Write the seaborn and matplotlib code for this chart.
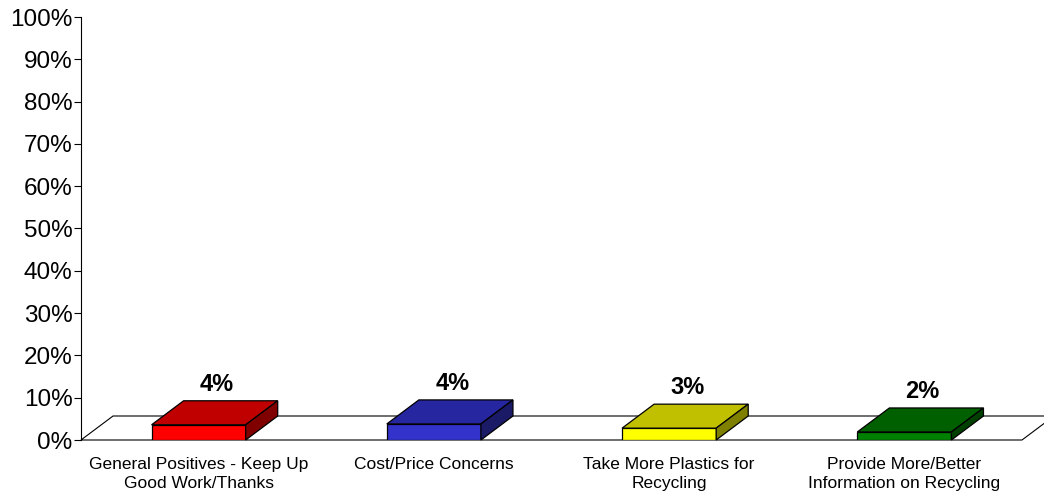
import matplotlib
matplotlib.use("Agg")
import matplotlib.pyplot as plt
import seaborn as sns
import pandas as pd

categories = ["General Positives - Keep Up\nGood Work/Thanks",
              "Cost/Price Concerns",
              "Take More Plastics for\nRecycling",
              "Provide More/Better\nInformation on Recycling"]
values = [3.6, 3.8, 2.8, 1.9]
front_colors = ["#FF0000", "#3333CC", "#FFFF00", "#008000"]
top_colors = ["#C00000", "#2626A0", "#C0C000", "#006000"]
side_colors = ["#800000", "#1A1A66", "#808000", "#004000"]
y_ticks = [0, 10, 20, 30, 40, 50, 60, 70, 80, 90, 100]

sns.set_style("white")
plt.rcParams["font.family"] = ["Liberation Sans", "DejaVu Sans"]
plt.rcParams["text.color"] = "black"
plt.rcParams["xtick.color"] = "black"
plt.rcParams["ytick.color"] = "black"

df = pd.DataFrame({"cat": categories, "val": values})

fig = plt.figure(figsize=(10.44, 4.98), dpi=100)
ax = fig.add_axes([81 / 1044, 58 / 498, 941 / 1044, 423 / 498])

sns.barplot(data=df, x="cat", y="val", hue="cat", palette=front_colors,
            saturation=1, width=0.4, edgecolor="black", linewidth=0.9,
            legend=False, ax=ax, zorder=3)
bars = list(ax.patches)

# depth of the fake 3d look, in data units
dx = 32 / 235
dy = 24 / 4.23

ax.set_xlim(-0.5, 3.5)
ax.set_ylim(0, 100)

# floor
ax.fill([-0.5, 3.5, 3.5 + dx, -0.5 + dx], [0, 0, dy, dy],
        facecolor="white", edgecolor="black", linewidth=0.8,
        zorder=1, clip_on=False)

for i, p in enumerate(bars):
    x0 = p.get_x()
    w = p.get_width()
    h = p.get_height()
    ax.fill([x0, x0 + w, x0 + w + dx, x0 + dx], [h, h, h + dy, h + dy],
            facecolor=top_colors[i], edgecolor="black", linewidth=0.9,
            zorder=4, clip_on=False)
    ax.fill([x0 + w, x0 + w + dx, x0 + w + dx, x0 + w], [0, dy, h + dy, h],
            facecolor=side_colors[i], edgecolor="black", linewidth=0.9,
            zorder=4, clip_on=False)
    ax.text(x0 + w / 2 + dx / 2 + 0.01, h + dy + 1.2, f"{values[i]:.0f}%",
            ha="center", va="bottom", fontsize=17, fontweight="bold",
            zorder=5)

ax.set_yticks(y_ticks)
ax.set_yticklabels([f"{t}%" for t in y_ticks], fontsize=17.5)
ax.tick_params(axis="y", direction="out", length=5, width=0.8, left=True, pad=1)
ax.tick_params(axis="x", length=0, labelsize=12.5, pad=12)
for lab in ax.get_xticklabels():
    lab.set_linespacing(1.35)
ax.set_xlabel("")
ax.set_ylabel("")

for s in ["top", "right", "bottom"]:
    ax.spines[s].set_visible(False)
ax.spines["left"].set_color("black")
ax.spines["left"].set_linewidth(0.8)
ax.patch.set_alpha(0)

plt.savefig("out.png", dpi=100)
